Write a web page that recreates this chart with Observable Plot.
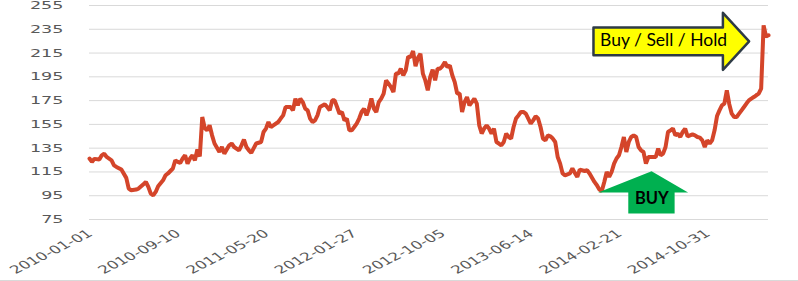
<!DOCTYPE html>
<html><head><meta charset="utf-8">
<script src="https://cdn.jsdelivr.net/npm/d3@7"></script>
<script src="https://cdn.jsdelivr.net/npm/@observablehq/plot@0.6"></script>
<style>
html,body{margin:0;padding:0;background:#fff;}
#chart{width:798px;height:280px;border-bottom:1px solid #d9d9d9;}
#chart svg{display:block;}
</style></head><body><div id="chart"></div>
<script>
// weekly closes: [week index from 2010-01-01, value]
const weeklyClose = [
[0,126.3],[1,123.4],[2,126],[4,125.4],[5,129],[6,130.4],[7,127.6],[9,124.8],[10,120.6],[11,119.2],
[13,117],[15,110],[16,101],[17,99.6],[19,100.2],[20,101],[22,104.7],[23,106.6],[24,102.4],[25,96.8],
[26,95.4],[27,98.2],[28,103],[30,108],[31,112.2],[32,113.7],[34,117.9],[35,124.8],[36,123.4],[37,122.6],
[38,126.3],[39,129],[40,122],[41,126.3],[42,129],[43,124.8],[44,134],[45,128],[46,161.2],[47,152],
[48,150],[49,154.2],[50,145.8],[51,138.9],[53,131.8],[54,136],[55,130.4],[57,137.4],[58,138.9],[59,136],
[61,133.2],[62,137.4],[63,142.2],[64,136],[65,133.2],[66,131],[67,135],[68,138.9],[70,140.2],[71,148.6],
[72,151.5],[73,157],[74,152.8],[75,154.2],[77,157],[78,159.9],[79,162.6],[80,169.6],[82,169.6],[83,166.8],
[84,176.7],[85,171],[86,176.7],[87,173.8],[88,168.3],[89,166.8],[90,159.9],[91,157],[92,158.4],[93,162.6],
[94,169.6],[96,171.9],[97,169.6],[98,166.8],[99,175.2],[100,175.2],[101,169.6],[102,164],[103,165.4],[104,158.4],
[105,159.9],[106,150],[107,150],[108,152.8],[109,155.7],[110,159.9],[111,165.4],[112,168.3],[113,162.6],[114,168.3],
[115,176.7],[116,168.3],[117,165.4],[118,173.8],[119,176.7],[120,180.9],[121,192],[122,189.3],[123,186.4],[124,182.2],
[125,197.7],[126,197.7],[127,201.9],[128,196.3],[129,200.5],[130,212],[131,211.6],[132,216.7],[133,204],[134,211],
[135,214.5],[136,197.7],[137,192],[138,183.6],[139,195],[140,201],[141,192],[142,201.9],[143,201.9],[144,204],
[145,207.4],[146,203.2],[147,204.6],[148,196.3],[149,190.6],[150,180.9],[151,180.9],[152,165.4],[153,173.8],[154,178],
[155,171],[156,173.8],[157,176.7],[158,172.5],[159,154.2],[160,147.3],[161,151.5],[162,154.2],[163,151.5],[164,147.3],
[165,151.5],[166,140.2],[167,138.9],[168,137.4],[169,140.2],[170,147.3],[171,144.4],[172,143.1],[173,152.8],[174,159.9],
[175,162.6],[176,165.4],[177,165.4],[178,164],[179,159.9],[180,155.7],[181,158.4],[182,161.8],[183,159.9],[184,152.8],
[185,143.1],[186,141.6],[187,145.8],[188,145],[189,143.1],[190,140.2],[191,127.6],[192,122],[193,113.7],[194,112.2],
[196,113.7],[197,117.9],[198,114.2],[199,110.8],[200,117],[202,115.8],[203,116.4],[204,113.7],[206,106.6],[207,103.8],
[208,100.2],[209,99],[210,106.6],[211,115],[212,110.8],[213,115],[214,122],[215,126.3],[216,129],[217,136],
[218,144.4],[219,131.8],[220,140.2],[221,144.4],[222,145.8],[223,144.4],[224,136],[225,133.2],[226,131.8],[227,122],
[228,127.6],[230,127.6],[231,127.6],[232,134.6],[233,129],[234,130.4],[235,136],[236,148.6],[237,150],[238,151.5],
[239,145.8],[240,147.3],[241,144.4],[242,148.6],[243,151.5],[244,145],[245,145.8],[246,146.6],[247,145.8],[248,144.4],
[249,143.9],[250,141.6],[251,136],[252,141.6],[253,138.9],[254,141.6],[255,150],[256,162],[257,166.8],[258,171],
[259,172.5],[260,183.6],[261,172],[262,164],[263,161.2],[264,161.2],[265,164],[266,166.8],[267,169.6],[268,172.5],
[269,175.2],[270,176.7],[271,178],[272,179.5],[273,180.9],[274,185.1],[275,238.3],[276,229],[277,230]
];
const startDate = "2010-01-01";
const lastWeek = 277;
const yTicks = [75, 95, 115, 135, 155, 175, 195, 215, 235, 255];
const xTickLabels = ["2010-01-01", "2010-09-10", "2011-05-20", "2012-01-27", "2012-10-05", "2013-06-14", "2014-02-21", "2014-10-31"];

// annotations (week index, value)
const sellArrow = [[205.6,236.4],[258.4,236.4],[258.4,248.8],[269.1,224.8],[258.4,200.9],[258.4,213.2],[205.6,213.2]];
const buyArrow = [[229.3,115.6],[244.2,97.7],[238.7,97.7],[238.7,80.0],[219.8,80.0],[219.8,97.7],[207.5,97.7]];
const sellNote = [{w: 234.2, v: 220.6, text: "Buy / Sell / Hold"}];
const buyNote = [{w: 229.4, v: 87.9, text: "BUY"}];

const parse = d3.utcParse("%Y-%m-%d");
const t0 = parse(startDate);
const weekToDate = w => new Date(+t0 + w * 7 * 864e5);
const series = weeklyClose.map(([w, v]) => ({date: weekToDate(w), value: v}));
const xTickDates = xTickLabels.map(parse);
const pts = a => a.map(([w, v]) => ({date: weekToDate(w), value: v}));

const chart = Plot.plot({
  width: 798, height: 280,
  marginLeft: 89, marginRight: 30, marginTop: 5, marginBottom: 61,
  x: {type: "utc", domain: [t0, weekToDate(lastWeek)], axis: null},
  y: {domain: [75, 255], axis: null},
  style: {background: "white", fontFamily: "'DejaVu Sans', sans-serif"},
  marks: [
    Plot.ruleY(yTicks, {stroke: "#d9d9d9", strokeWidth: 1}),
    Plot.line(series, {x: "date", y: "value", stroke: "#D4452A", strokeWidth: 4, strokeLinejoin: "miter"}),
    Plot.line(pts(sellArrow), {x: "date", y: "value", curve: "linear-closed", fill: "#FFFF00", stroke: "#2E3B46", strokeWidth: 2.5}),
    Plot.line(pts(buyArrow), {x: "date", y: "value", curve: "linear-closed", fill: "#00B050", stroke: "none"}),
    Plot.text(sellNote, {x: d => weekToDate(d.w), y: "v", text: "text", lineAnchor: "bottom", textAnchor: "middle", fill: "#000", fontSize: 17.5, fontFamily: "Lato"}),
    Plot.text(buyNote, {x: d => weekToDate(d.w), y: "v", text: "text", lineAnchor: "bottom", textAnchor: "middle", fill: "#000", fontSize: 16.5, fontWeight: "bold", fontFamily: "Lato"}),
    Plot.text(yTicks, {y: d => d, frameAnchor: "left", dx: -26, textAnchor: "end", text: d => String(d), fill: "#595959", fontSize: 11}),
    Plot.text(xTickDates, {x: d => d, frameAnchor: "bottom", dx: 4, dy: 15.5, rotate: -38, textAnchor: "end", lineAnchor: "bottom", text: (d, i) => xTickLabels[i], fill: "#595959", fontSize: 11})
  ]
});

// widen the axis lettering as in the original picture
const ySet = new Set(yTicks.map(String));
const xSet = new Set(xTickLabels);
chart.querySelectorAll("text").forEach(t => {
  const s = t.textContent;
  const tr = t.getAttribute("transform") || "";
  if (xSet.has(s)) t.setAttribute("transform", tr.replace(/rotate\(/, "scale(1.55,1) rotate("));
  else if (ySet.has(s)) t.setAttribute("transform", tr + " scale(1.6,1)");
});
document.getElementById("chart").appendChild(chart);
</script>
</body></html>
